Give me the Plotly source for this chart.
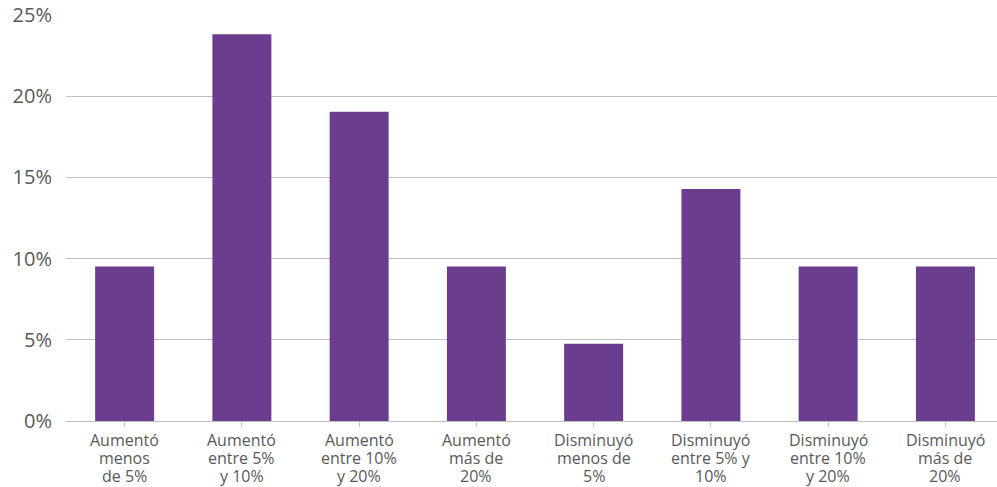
import plotly.graph_objects as go

categories = [
    "Aumentó<br>menos<br>de 5%",
    "Aumentó<br>entre 5%<br>y 10%",
    "Aumentó<br>entre 10%<br>y 20%",
    "Aumentó<br>más de<br>20%",
    "Disminuyó<br>menos de<br>5%",
    "Disminuyó<br>entre 5% y<br>10%",
    "Disminuyó<br>entre 10%<br>y 20%",
    "Disminuyó<br>más de<br>20%",
]
values = [0.0952, 0.2381, 0.1905, 0.0952, 0.0476, 0.1429, 0.0952, 0.0952]
y_ticks = [0, 0.05, 0.10, 0.15, 0.20, 0.25]
y_tick_labels = ["0%", "5%", "10%", "15%", "20%", "25%"]

fig = go.Figure(go.Bar(
    x=list(range(len(categories))),
    y=values,
    marker=dict(color="#6A3D8F", line=dict(width=0)),
    hoverinfo="skip",
))

# category labels with tight line spacing, one annotation per line
LINE_H = 18
for i, lab in enumerate(categories):
    for k, line in enumerate(lab.split("<br>")):
        fig.add_annotation(
            x=i, y=0, xref="x", yref="y",
            text=line, showarrow=False,
            xanchor="center", yanchor="top",
            yshift=-(6 + k * LINE_H),
            font=dict(family="Open Sans", size=16, color="#595959"),
        )

fig.update_layout(
    width=997, height=487,
    margin=dict(l=66, r=0, t=15, b=66),
    paper_bgcolor="white", plot_bgcolor="white",
    bargap=0.497,
    showlegend=False,
    font=dict(family="Open Sans", color="#595959"),
)
fig.update_xaxes(
    tickmode="array",
    tickvals=list(range(len(categories))),
    ticktext=categories,
    showticklabels=False,
    range=[-0.5, 7.44],
    showgrid=False,
    showline=True, linecolor="#bfbfbf", linewidth=1,
    ticks="outside", tickson="boundaries", ticklen=5, tickcolor="#bfbfbf",
    fixedrange=True,
)
fig.update_yaxes(
    range=[0, 0.25],
    tickmode="array",
    tickvals=y_ticks,
    ticktext=y_tick_labels,
    showgrid=True, gridcolor="#bfbfbf", gridwidth=1,
    zeroline=False,
    showline=False,
    ticks="", ticklabelstandoff=13,
    tickfont=dict(size=20, color="#595959"),
    fixedrange=True,
)

fig.write_html("out.html", config={"displayModeBar": False})
